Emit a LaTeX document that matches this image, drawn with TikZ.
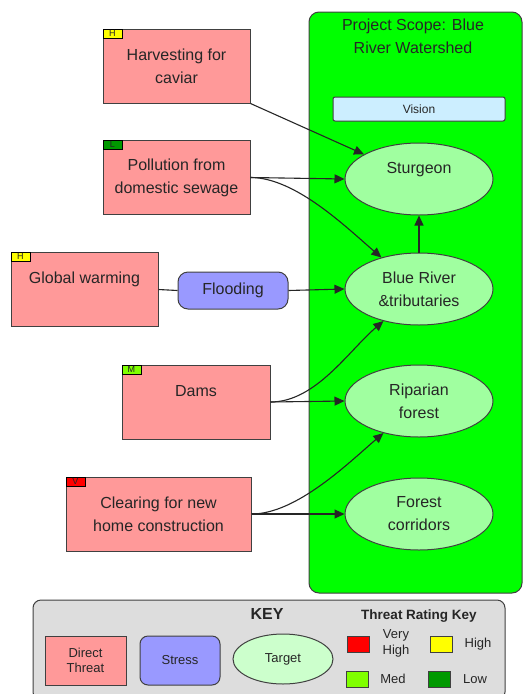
\documentclass[tikz,border=0pt]{standalone}
\usepackage{fontspec}
\setmainfont{Liberation Sans}
\usetikzlibrary{arrows.meta, positioning, shapes.geometric}
\definecolor{threatpink}{RGB}{255,153,153}
\definecolor{stressblue}{RGB}{153,153,255}
\definecolor{scopegreen}{RGB}{0,255,0}
\definecolor{targetgreen}{RGB}{160,255,160}
\definecolor{keytarget}{RGB}{204,255,204}
\definecolor{visionblue}{RGB}{204,238,255}
\definecolor{keygray}{RGB}{221,221,221}
\definecolor{edgegray}{RGB}{64,64,64}
\definecolor{ratevhigh}{RGB}{255,0,0}
\definecolor{ratehigh}{RGB}{255,255,0}
\definecolor{ratemed}{RGB}{128,255,0}
\definecolor{ratelow}{RGB}{0,153,0}

\begin{document}
\begin{tikzpicture}[x=1pt, y=-1pt,
  every node/.style={text=black!85},
  threat/.style={draw=edgegray, line width=1pt, fill=threatpink, minimum height=74pt, align=center, font=\fontsize{16}{23}\selectfont},
  stress/.style={draw=edgegray, line width=1pt, fill=stressblue, rounded corners=10pt, align=center},
  target/.style={ellipse, draw=edgegray, line width=1pt, fill=targetgreen, minimum width=148pt, minimum height=72pt, align=center, font=\fontsize{16}{23}\selectfont},
  ratetag/.style={draw=black, line width=0.6pt, anchor=north west, minimum width=19pt, minimum height=9pt, inner sep=0pt, font=\fontsize{9}{9}\selectfont},
  swatch/.style={draw=edgegray, line width=1pt, minimum width=22pt, minimum height=16pt, inner sep=0pt},
  keytext/.style={font=\fontsize{13}{16}\selectfont, align=center},
  link/.style={draw=black!85, line width=1.1pt},
  arrowlink/.style={link, -{Triangle[length=10pt, width=9pt]}}]
  \useasboundingbox (0,0) rectangle (524,694);

  % project scope
  \node[draw=edgegray, line width=1pt, fill=scopegreen, rounded corners=10pt, minimum width=213pt, minimum height=581pt] (scope) at (415.5,302.5) {};
  \node[align=center, font=\fontsize{16}{23}\selectfont] (scopetitle) at (413,36) {Project Scope: Blue\\River Watershed};
  \node[draw=edgegray, line width=1pt, fill=visionblue, rounded corners=2pt, minimum width=172pt, minimum height=24pt, font=\fontsize{12}{14}\selectfont] (vision) at (419,109) {Vision};

  % targets
  \node[target] (sturgeon) at (419,179) {Sturgeon\\\mbox{}};
  \node[target] (blueriver) at (419,289) {Blue River\\\&tributaries};
  \node[target] (riparian) at (419,401) {Riparian\\forest};
  \node[target] (corridors) at (419,514) {Forest\\corridors};

  % direct threats
  \node[threat, minimum width=147pt] (harvest) at (176.5,66) {Harvesting for\\caviar};
  \node[threat, minimum width=147pt] (sewage) at (176.5,177.5) {Pollution from\\domestic sewage};
  \node[threat, minimum width=147pt] (warming) at (84.5,289.5) {Global warming\\\mbox{}};
  \node[threat, minimum width=148pt] (dams) at (196,402) {Dams\\\mbox{}};
  \node[threat, minimum width=185pt] (clearing) at (158.5,514) {Clearing for new\\home construction};
  \foreach \n/\c/\l in {harvest/ratehigh/H, sewage/ratelow/L, warming/ratehigh/H, dams/ratemed/M, clearing/ratevhigh/V}
    \node[ratetag, fill=\c] (tag\n) at (\n.north west) {\l};

  % stress
  \node[stress, minimum width=110pt, minimum height=37pt, font=\fontsize{16}{18}\selectfont] (flooding) at (233,290.5) {Flooding};

  % connectors
  \draw[arrowlink] (harvest.south east) -- (sturgeon);
  \draw[arrowlink] (sewage.east) -- (sturgeon.west);
  \draw[arrowlink] (sewage.east) .. controls +(45,0) and +(-35,-30) .. (blueriver.140);
  \draw[link] (warming.east) -- (flooding.west);
  \draw[arrowlink] (flooding.east) -- (blueriver.west);
  \draw[arrowlink] (blueriver.north) -- (sturgeon.south);
  \draw[arrowlink] (dams.east) -- (riparian.west);
  \draw[arrowlink] (dams.east) .. controls +(45,0) and +(-35,30) .. (blueriver.222);
  \draw[arrowlink] (clearing.east) -- (corridors.west);
  \draw[arrowlink] (clearing.east) .. controls +(45,0) and +(-35,30) .. (riparian.222);

  % key
  \node[draw=edgegray, line width=1pt, fill=keygray, rounded corners=8pt, minimum width=472pt, minimum height=100pt] (keybox) at (269,650) {};
  \node[font=\fontsize{16}{18}\selectfont\bfseries] (keytitle) at (267,614) {KEY};
  \node[threat, minimum width=81pt, minimum height=49pt, font=\fontsize{13}{15}\selectfont] (keythreat) at (85.5,660.5) {Direct\\Threat};
  \node[stress, minimum width=80pt, minimum height=49pt, rounded corners=8pt, font=\fontsize{13}{15}\selectfont] (keystress) at (180,660.5) {Stress};
  \node[target, fill=keytarget, minimum width=100pt, minimum height=50pt, font=\fontsize{13}{15}\selectfont] (keytarget) at (283,659) {Target};
  \node[font=\fontsize{13.5}{15}\selectfont\bfseries] (ratetitle) at (419,616) {Threat Rating Key};
  \node[swatch, fill=ratevhigh] (swvhigh) at (358,644) {};
  \node[swatch, fill=ratehigh] (swhigh) at (441,644) {};
  \node[swatch, fill=ratemed] (swmed) at (357,679) {};
  \node[swatch, fill=ratelow] (swlow) at (439,679) {};
  \node[keytext] (lbvhigh) at (396,643) {Very\\High};
  \node[keytext] (lbhigh) at (478,644) {High};
  \node[keytext] (lbmed) at (393,679) {Med};
  \node[keytext] (lblow) at (475,679) {Low};
\end{tikzpicture}
\end{document}
